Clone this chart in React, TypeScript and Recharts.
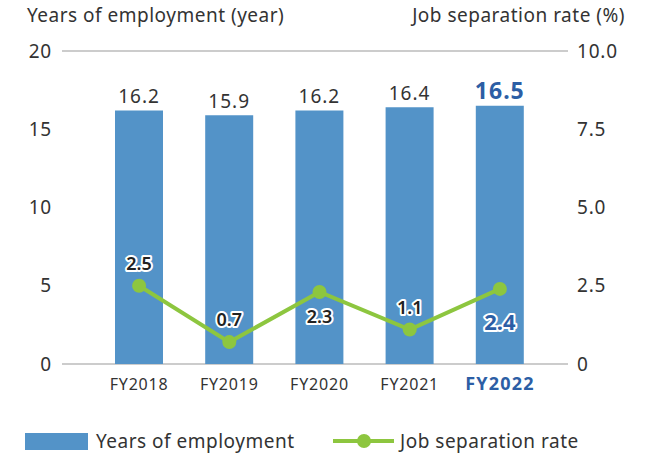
import React from 'react';
import { ComposedChart, Bar, Line, XAxis, YAxis, CartesianGrid, LabelList } from 'recharts';

const categories = ['FY2018', 'FY2019', 'FY2020', 'FY2021', 'FY2022'];
const yearsOfEmployment = [16.2, 15.9, 16.2, 16.4, 16.5];
const separationRate = [2.5, 0.7, 2.3, 1.1, 2.4];
const rateLabelSide = ['above', 'above', 'below', 'above', 'below'];
const leftTicks = [0, 5, 10, 15, 20];
const rightTicks = [0, 2.5, 5, 7.5, 10];

const data = categories.map((c, i) => ({
  name: c,
  years: yearsOfEmployment[i],
  rate: separationRate[i],
}));

const FONT = '"Noto Sans", "Open Sans", sans-serif';
const BAR = '#5393c8';
const LINE = '#8dc63f';
const HILITE = '#2c5ea5';
const TEXT = '#333333';

const XTick = (props: any) => {
  const { x, y, payload, index } = props;
  const last = index === categories.length - 1;
  return (
    <text x={x} y={y} dy={16} textAnchor="middle" fontFamily={FONT}
      fontSize={last ? 18 : 16} fontWeight={last ? 700 : 400} fill={last ? HILITE : TEXT}
      letterSpacing={last ? 1.2 : 0.8}>
      {payload.value}
    </text>
  );
};

const BarLabel = (props: any) => {
  const { x, y, width, value, index } = props;
  const last = index === categories.length - 1;
  return (
    <text x={x + width / 2} y={y - 7} textAnchor="middle" fontFamily={FONT}
      fontSize={last ? 23 : 19} fontWeight={last ? 700 : 400} fill={last ? HILITE : TEXT}
      letterSpacing={1}>
      {value}
    </text>
  );
};

const RateLabel = (props: any) => {
  const { x, y, value, index } = props;
  const last = index === categories.length - 1;
  const below = rateLabelSide[index] === 'below';
  const ty = below ? y + (last ? 41 : 31) : y - 16;
  return (
    <text x={x} y={ty} textAnchor="middle" fontFamily={FONT}
      fontSize={last ? 22 : 18} fontWeight={last ? 700 : 600} fill={last ? HILITE : '#222'}
      stroke="#fff" strokeWidth={4} strokeLinejoin="round" paintOrder="stroke">
      {value}
    </text>
  );
};

const textStyle: React.CSSProperties = {
  position: 'absolute', fontFamily: FONT, fontSize: 19, letterSpacing: 0.5, color: TEXT, whiteSpace: 'nowrap', lineHeight: '24px',
};

const LegendBlock = () => (
  <div style={{ position: 'absolute', left: 0, top: 428, width: 659, height: 26 }}>
    <div style={{ position: 'absolute', left: 25, top: 5, width: 63, height: 17, background: BAR }} />
    <div style={{ ...textStyle, left: 96, top: 1 }}>Years of employment</div>
    <svg style={{ position: 'absolute', left: 333, top: 3 }} width={61} height={20}>
      <line x1={0} y1={10} x2={61} y2={10} stroke={LINE} strokeWidth={4} />
      <circle cx={31} cy={10} r={7} fill={LINE} />
    </svg>
    <div style={{ ...textStyle, left: 400, top: 1 }}>Job separation rate</div>
  </div>
);

export default function App() {
  return (
    <div style={{ position: 'absolute', left: 0, top: 0, width: 659, height: 454, background: '#fff' }}>
      <div style={{ ...textStyle, left: 27, top: 3 }}>Years of employment (year)</div>
      <div style={{ ...textStyle, right: 34, top: 3 }}>Job separation rate (%)</div>
      <ComposedChart width={659} height={454} data={data}
        margin={{ top: 51, right: 0, bottom: 0, left: 0 }}>
        <CartesianGrid vertical={false} stroke="#9a9a9a" strokeWidth={1.2} />
        <XAxis dataKey="name" axisLine={false} tickLine={false} tickSize={0} tickMargin={10}
          height={90} padding={{ left: 32, right: 23 }} tick={<XTick />} interval={0} />
        <YAxis yAxisId="left" orientation="left" width={62} domain={[0, 20]} ticks={leftTicks}
          axisLine={false} tickLine={false} tickSize={0} tickMargin={10}
          tick={{ fill: TEXT, fontSize: 19, fontFamily: FONT, letterSpacing: 0.8 }} />
        <YAxis yAxisId="right" orientation="right" width={91} domain={[0, 10]} ticks={rightTicks}
          axisLine={false} tickLine={false} tickSize={0} tickMargin={9}
          tickFormatter={(v: number) => (v === 0 ? '0' : v.toFixed(1))}
          tick={{ fill: TEXT, fontSize: 19, fontFamily: FONT, textAnchor: 'start', letterSpacing: 0.8 }} />
        <Bar yAxisId="left" dataKey="years" name="Years of employment" fill={BAR} barSize={48} isAnimationActive={false}>
          <LabelList dataKey="years" content={<BarLabel />} />
        </Bar>
        <Line yAxisId="right" dataKey="rate" name="Job separation rate" stroke={LINE} strokeWidth={4}
          dot={{ r: 7, fill: LINE, stroke: LINE, strokeWidth: 0 }} activeDot={false} isAnimationActive={false}>
          <LabelList dataKey="rate" content={<RateLabel />} />
        </Line>
      </ComposedChart>
      <LegendBlock />
    </div>
  );
}
